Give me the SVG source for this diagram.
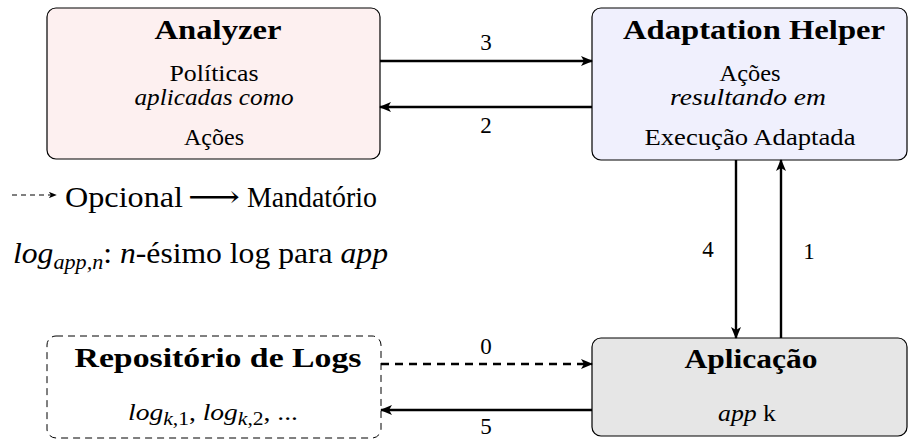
<svg xmlns="http://www.w3.org/2000/svg" width="915" height="439" viewBox="0 0 915 439">
  <defs>
    <marker id="head" viewBox="0 0 12 10" refX="11" refY="5" markerWidth="12" markerHeight="10" markerUnits="userSpaceOnUse" orient="auto">
      <path d="M0,0 L12,5 L0,10 L3,5 Z" fill="#000"/>
    </marker>
    <marker id="headSmall" viewBox="0 0 10 8" refX="9" refY="4" markerWidth="8" markerHeight="6.4" markerUnits="userSpaceOnUse" orient="auto">
      <path d="M0,0 L10,4 L0,8 L2.5,4 Z" fill="#000"/>
    </marker>
    <style>
      .box { stroke: #000; stroke-width: 1.2; }
      .dashed { fill: none; stroke: #000; stroke-width: 1; stroke-dasharray: 7 5; }
      .title { font-family: "Liberation Serif", "DejaVu Serif", serif; font-weight: bold; font-size: 28px; text-anchor: middle; fill: #000; }
      .body { font-family: "Liberation Serif", "DejaVu Serif", serif; font-size: 23px; text-anchor: middle; fill: #000; }
      .it { font-style: italic; }
      .lbl { font-family: "Liberation Serif", "DejaVu Serif", serif; font-size: 23px; text-anchor: middle; fill: #000; }
      .legend { font-family: "Liberation Serif", "DejaVu Serif", serif; font-size: 30px; fill: #000; }
      .arrow { stroke: #000; stroke-width: 2.4; fill: none; marker-end: url(#head); }
      .arrowDash { stroke: #000; stroke-width: 2.4; fill: none; stroke-dasharray: 8 6; marker-end: url(#head); }
    </style>
  </defs>

  <!-- Analyzer -->
  <g id="analyzer">
    <rect class="box" x="47" y="8" width="333" height="151" rx="9" fill="#FDF0F0"/>
    <text class="title" x="218" y="39" textLength="127" lengthAdjust="spacingAndGlyphs">Analyzer</text>
    <text class="body" x="214" y="81" textLength="89" lengthAdjust="spacingAndGlyphs">Políticas</text>
    <text class="body it" x="214" y="105" textLength="159" lengthAdjust="spacingAndGlyphs">aplicadas  como</text>
    <text class="body" x="214" y="145" textLength="60" lengthAdjust="spacingAndGlyphs">Ações</text>
  </g>

  <!-- Adaptation Helper -->
  <g id="adaptation-helper">
    <rect class="box" x="592" y="8" width="315" height="152" rx="9" fill="#F0F0FD"/>
    <text class="title" x="754" y="39" textLength="262" lengthAdjust="spacingAndGlyphs">Adaptation Helper</text>
    <text class="body" x="750" y="81" textLength="61" lengthAdjust="spacingAndGlyphs">Ações</text>
    <text class="body it" x="748" y="105" textLength="156" lengthAdjust="spacingAndGlyphs">resultando  em</text>
    <text class="body" x="750" y="145" textLength="211" lengthAdjust="spacingAndGlyphs">Execução Adaptada</text>
  </g>

  <!-- Repositório de Logs -->
  <g id="repositorio">
    <rect class="dashed" x="47" y="336" width="334" height="102" rx="9"/>
    <text class="title" x="218" y="367" textLength="287" lengthAdjust="spacingAndGlyphs">Repositório de Logs</text>
    <text class="body" x="213" y="420" font-size="26" textLength="170" lengthAdjust="spacingAndGlyphs"><tspan class="it">log</tspan><tspan class="it" font-size="18" dy="5">k</tspan><tspan font-size="18">,1</tspan><tspan dy="-5">, </tspan><tspan class="it">log</tspan><tspan class="it" font-size="18" dy="5">k</tspan><tspan font-size="18">,2</tspan><tspan dy="-5">, ...</tspan></text>
  </g>

  <!-- Aplicação -->
  <g id="aplicacao">
    <rect class="box" x="592" y="338" width="315" height="98" rx="9" fill="#E6E6E6"/>
    <text class="title" x="751" y="368" textLength="133" lengthAdjust="spacingAndGlyphs">Aplicação</text>
    <text class="body" x="747" y="421" textLength="58" lengthAdjust="spacingAndGlyphs"><tspan class="it">app</tspan>  k</text>
  </g>

  <!-- Connectors -->
  <g id="connectors">
    <line class="arrow" x1="380" y1="61" x2="592" y2="61"/>
    <line class="arrow" x1="592" y1="107" x2="380" y2="107"/>
    <line class="arrow" x1="736" y1="160" x2="736" y2="338"/>
    <line class="arrow" x1="781" y1="338" x2="781" y2="160"/>
    <line class="arrowDash" x1="381" y1="364" x2="592" y2="364"/>
    <line class="arrow" x1="592" y1="410" x2="381" y2="410"/>
    <text class="lbl" x="486" y="50">3</text>
    <text class="lbl" x="486" y="133">2</text>
    <text class="lbl" x="708" y="257">4</text>
    <text class="lbl" x="809" y="259">1</text>
    <text class="lbl" x="486" y="354">0</text>
    <text class="lbl" x="486" y="434">5</text>
  </g>

  <!-- Legend -->
  <g id="legend">
    <line x1="12" y1="195" x2="56" y2="195" stroke="#000" stroke-width="1" stroke-dasharray="5 4" marker-end="url(#headSmall)"/>
    <text class="legend" x="65" y="207" textLength="118" lengthAdjust="spacingAndGlyphs">Opcional</text>
    <text class="legend" x="188" y="207" font-family="DejaVu Serif, serif" textLength="52" lengthAdjust="spacingAndGlyphs">⟶</text>
    <text class="legend" x="247" y="207" textLength="130" lengthAdjust="spacingAndGlyphs">Mandatório</text>
    <text class="legend" x="13" y="263" textLength="375" lengthAdjust="spacingAndGlyphs"><tspan class="it">log</tspan><tspan class="it" font-size="21" dy="6">app,n</tspan><tspan dy="-6">: </tspan><tspan class="it">n</tspan>-ésimo log para <tspan class="it">app</tspan></text>
  </g>
</svg>
